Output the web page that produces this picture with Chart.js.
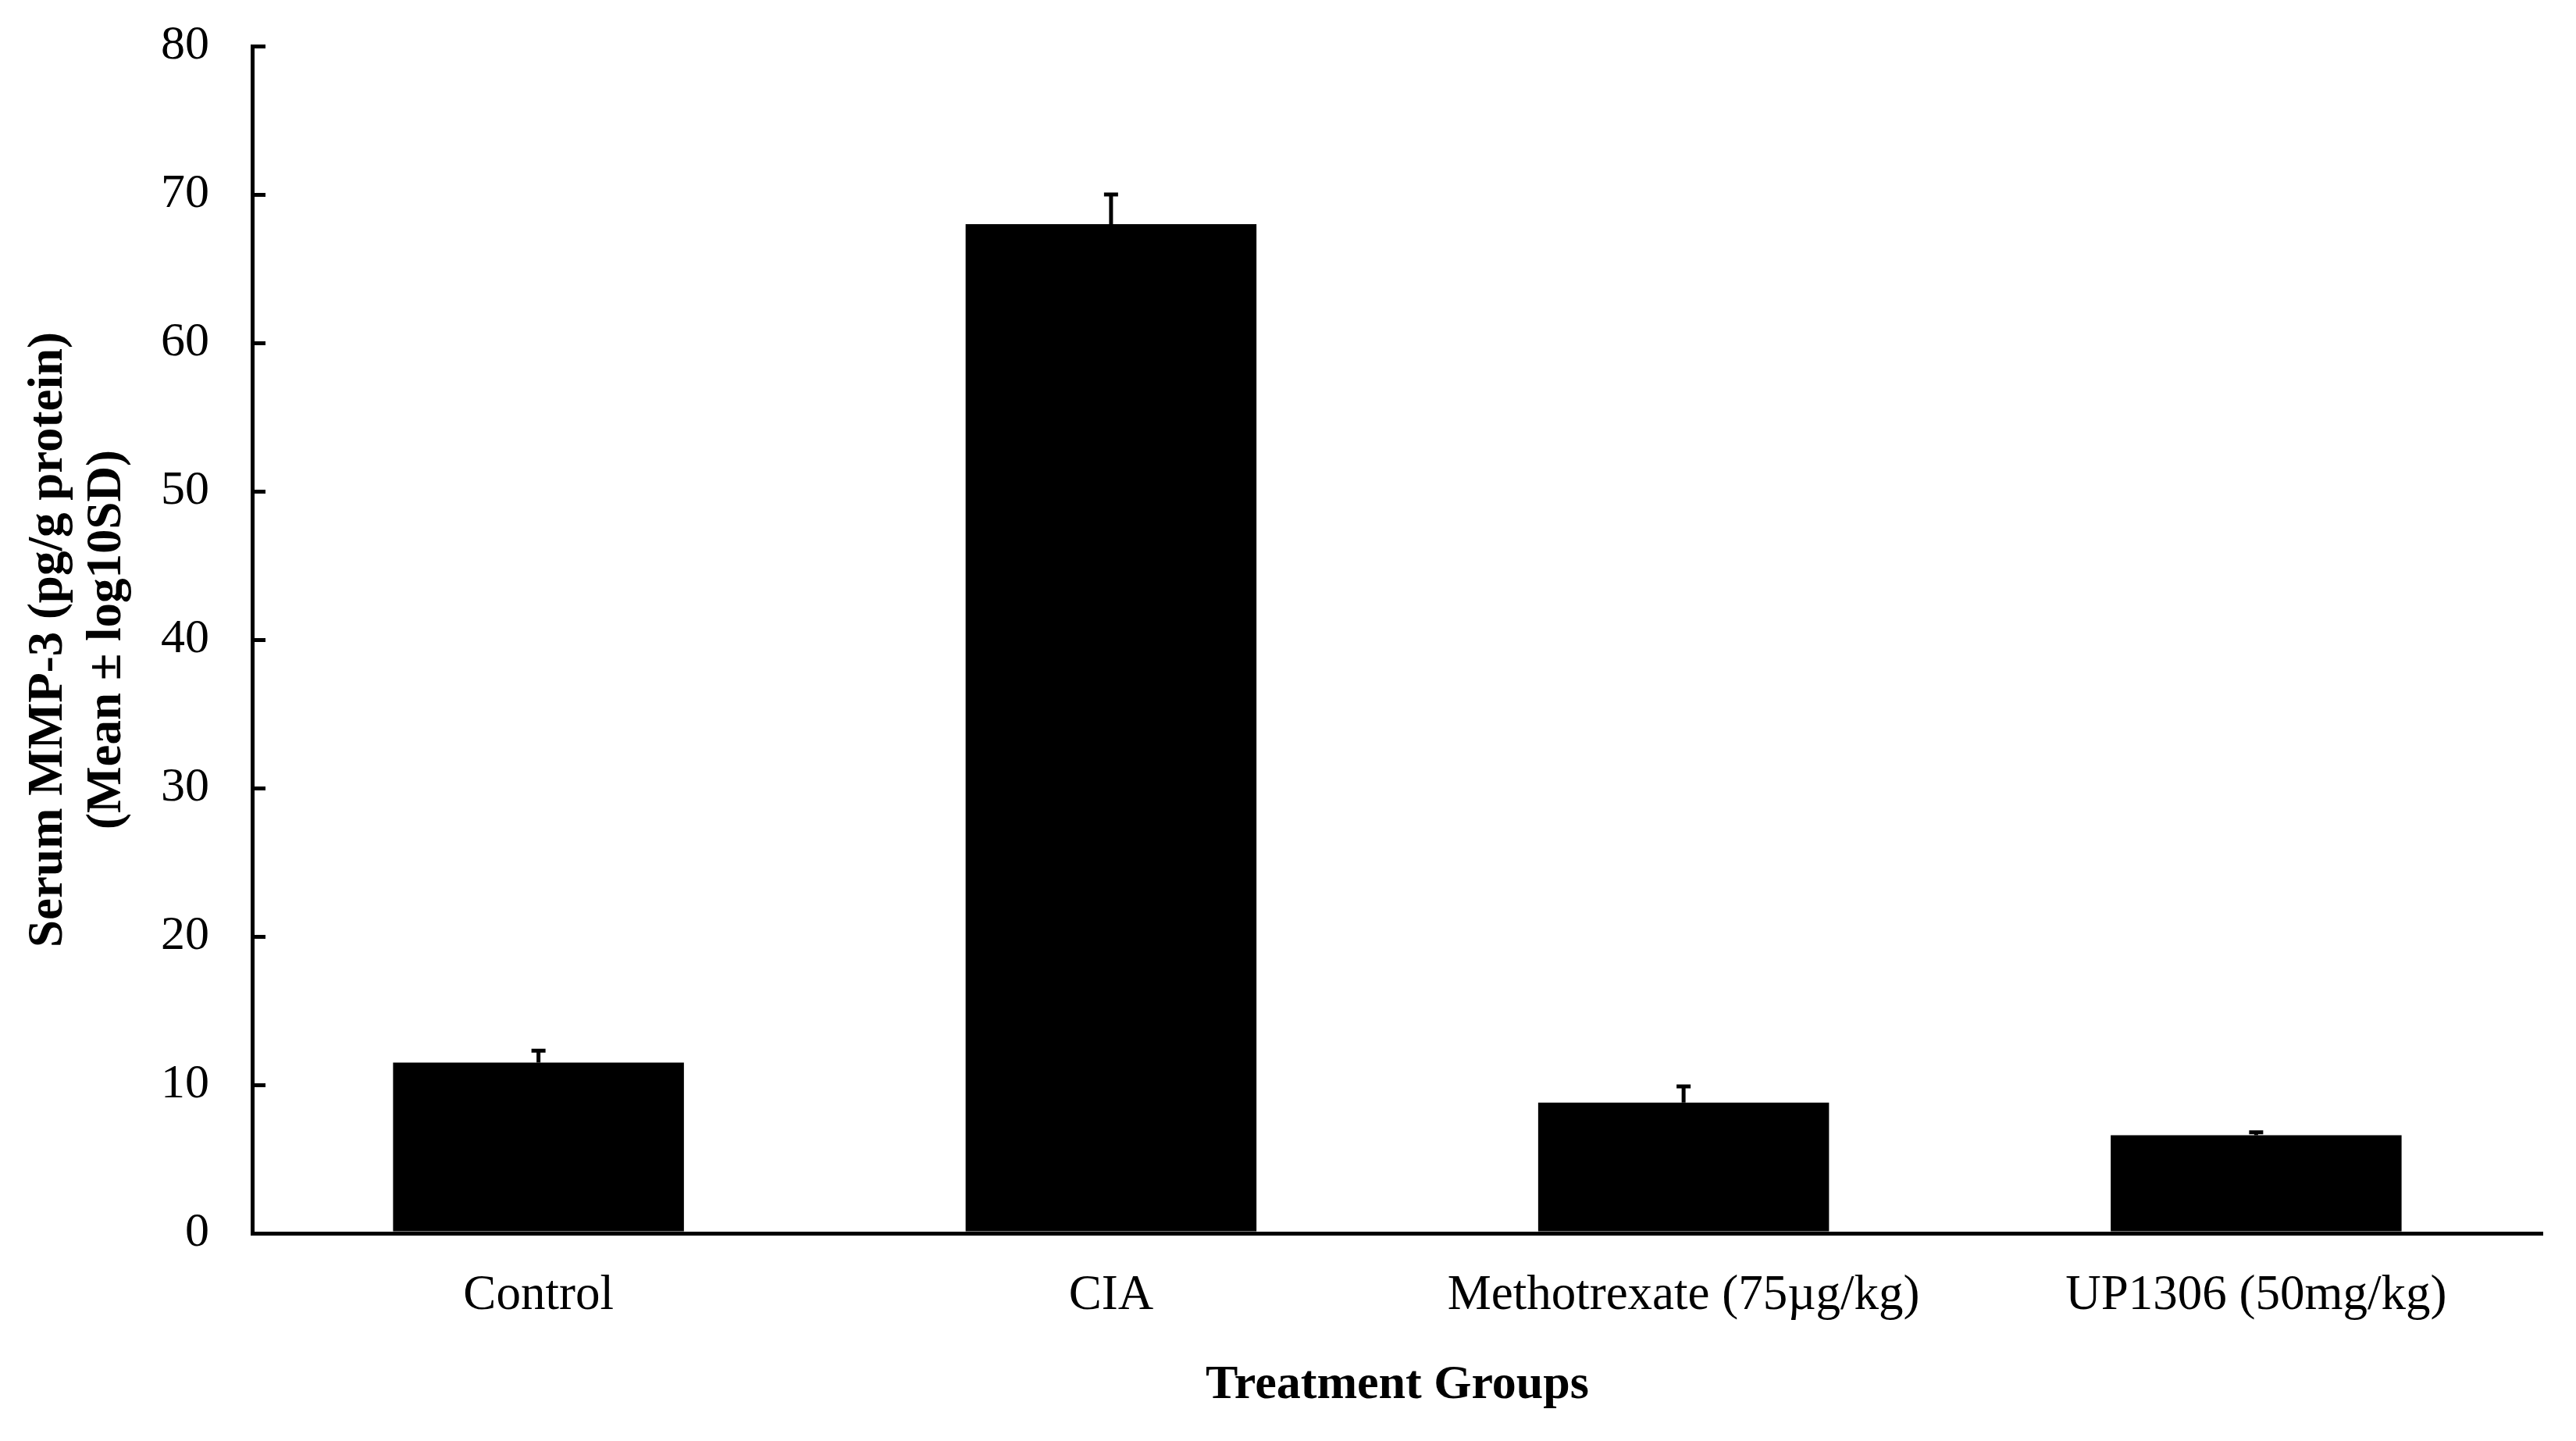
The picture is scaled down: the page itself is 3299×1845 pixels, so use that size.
<!DOCTYPE html>
<html>
<head>
<meta charset="utf-8">
<title>Serum MMP-3</title>
<script src="https://cdn.jsdelivr.net/npm/chart.js@4/dist/chart.umd.min.js"></script>
<style>
  html, body { margin: 0; padding: 0; background: #fff; }
  #wrap { width: 3299px; height: 1845px; }
</style>
</head>
<body>
<div id="wrap"><canvas id="mmpChart" width="3299" height="1845"></canvas></div>
<script>
/* ===== data ===== */
const groups = ["Control", "CIA", "Methotrexate (75µg/kg)", "UP1306 (50mg/kg)"];
const meanValues = [11.5, 68.0, 8.8, 6.6];
const sdValues = [0.8, 2.0, 1.1, 0.2];
const yTicks = [0, 10, 20, 30, 40, 50, 60, 70, 80];

const serif = "'Liberation Serif', 'Times New Roman', serif";

/* ===== upper error bars drawn through the y scale ===== */
const errorBars = {
  id: "errorBars",
  afterDatasetsDraw(chart) {
    const { ctx, scales: { y } } = chart;
    const meta = chart.getDatasetMeta(0);
    ctx.save();
    ctx.strokeStyle = "#000";
    ctx.lineWidth = 5;
    meta.data.forEach((bar, i) => {
      const top = y.getPixelForValue(meanValues[i] + sdValues[i]);
      ctx.beginPath();
      ctx.moveTo(bar.x, bar.y);
      ctx.lineTo(bar.x, top);
      ctx.moveTo(bar.x - 9, top);
      ctx.lineTo(bar.x + 9, top);
      ctx.stroke();
    });
    ctx.restore();
  }
};

new Chart(document.getElementById("mmpChart").getContext("2d"), {
  type: "bar",
  data: {
    labels: groups,
    datasets: [{
      data: meanValues,
      backgroundColor: "#000",
      borderWidth: 0,
      categoryPercentage: 1,
      barPercentage: 0.508
    }]
  },
  options: {
    responsive: false,
    devicePixelRatio: 1,
    animation: false,
    layout: { padding: { top: 59, right: 43, bottom: 0, left: 0 } },
    plugins: { legend: { display: false }, tooltip: { enabled: false } },
    scales: {
      x: {
        grid: { display: false, drawTicks: false },
        border: { display: true, color: "#000", width: 5 },
        ticks: {
          color: "#000",
          padding: 43,
          maxRotation: 0,
          autoSkip: false,
          font: { family: serif, size: 63 }
        },
        title: {
          display: true,
          text: "Treatment Groups",
          color: "#000",
          padding: { top: 0, bottom: 34 },
          font: { family: serif, size: 62, weight: "bold", lineHeight: 1.2 }
        },
        afterFit(scale) { scale.height = 1845 - 1579; }
      },
      y: {
        min: 0,
        max: 80,
        afterBuildTicks(scale) { scale.ticks = yTicks.map(v => ({ value: v })); },
        grid: { drawOnChartArea: false, drawTicks: true, tickLength: -17, color: "#000", lineWidth: 5 },
        border: { display: true, color: "#000", width: 5 },
        ticks: {
          color: "#000",
          padding: 72,
          font: { family: serif, size: 62 }
        },
        title: {
          display: true,
          text: ["Serum MMP-3 (pg/g protein)", "(Mean ± log10SD)"],
          color: "#000",
          padding: { top: 26, bottom: 0 },
          font: { family: serif, size: 63, weight: "bold", lineHeight: 1.18 }
        },
        afterFit(scale) {
          scale.width = 323;
          scale.paddingTop = 0;
          scale.paddingBottom = 0;
        }
      }
    }
  },
  plugins: [errorBars]
});
</script>
</body>
</html>
